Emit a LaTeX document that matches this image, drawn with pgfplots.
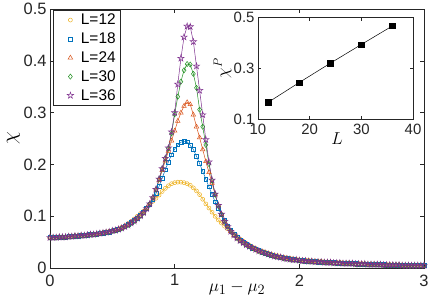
\documentclass[border=0pt]{standalone}
\usepackage[no-math]{fontspec}
\setmainfont{Liberation Sans}
\usepackage{pgfplots}
\pgfplotsset{compat=1.18}
\usepackage{pgfplotstable}

\definecolor{myyellow}{rgb}{0.929,0.694,0.125}
\definecolor{myblue}{rgb}{0,0.447,0.741}
\definecolor{myorange}{rgb}{0.85,0.325,0.098}
\definecolor{mygreen}{rgb}{0.12,0.56,0.12}
\definecolor{mypurple}{rgb}{0.494,0.184,0.556}
\definecolor{axgray}{rgb}{0.15,0.15,0.15}

\pgfdeclareplotmark{pentagram}{%
  \pgfpathmoveto{\pgfqpoint{0pt}{1\pgfplotmarksize}}%
  \pgfpathlineto{\pgfqpoint{0.2245\pgfplotmarksize}{0.309\pgfplotmarksize}}%
  \pgfpathlineto{\pgfqpoint{0.951\pgfplotmarksize}{0.309\pgfplotmarksize}}%
  \pgfpathlineto{\pgfqpoint{0.363\pgfplotmarksize}{-0.118\pgfplotmarksize}}%
  \pgfpathlineto{\pgfqpoint{0.588\pgfplotmarksize}{-0.809\pgfplotmarksize}}%
  \pgfpathlineto{\pgfqpoint{0pt}{-0.382\pgfplotmarksize}}%
  \pgfpathlineto{\pgfqpoint{-0.588\pgfplotmarksize}{-0.809\pgfplotmarksize}}%
  \pgfpathlineto{\pgfqpoint{-0.363\pgfplotmarksize}{-0.118\pgfplotmarksize}}%
  \pgfpathlineto{\pgfqpoint{-0.951\pgfplotmarksize}{0.309\pgfplotmarksize}}%
  \pgfpathlineto{\pgfqpoint{-0.2245\pgfplotmarksize}{0.309\pgfplotmarksize}}%
  \pgfpathclose
  \pgfusepathqstroke
}

\pgfplotstableread{
x      a     b     c     d     e
0.000 0.059 0.059 0.059 0.059 0.059
0.025 0.059 0.059 0.059 0.059 0.059
0.050 0.059 0.059 0.059 0.059 0.059
0.075 0.060 0.060 0.060 0.060 0.060
0.100 0.060 0.060 0.060 0.060 0.060
0.125 0.060 0.060 0.060 0.060 0.060
0.150 0.061 0.061 0.061 0.061 0.061
0.175 0.061 0.061 0.061 0.061 0.061
0.200 0.062 0.062 0.062 0.062 0.062
0.225 0.062 0.062 0.062 0.062 0.062
0.250 0.063 0.063 0.063 0.063 0.063
0.275 0.063 0.063 0.063 0.063 0.063
0.300 0.064 0.064 0.064 0.064 0.064
0.325 0.065 0.065 0.065 0.065 0.065
0.350 0.065 0.065 0.065 0.065 0.065
0.375 0.066 0.066 0.066 0.066 0.066
0.400 0.067 0.067 0.067 0.067 0.067
0.425 0.068 0.068 0.068 0.068 0.068
0.450 0.069 0.069 0.069 0.069 0.069
0.475 0.071 0.070 0.070 0.070 0.070
0.500 0.072 0.072 0.072 0.072 0.072
0.525 0.074 0.073 0.073 0.073 0.073
0.550 0.076 0.075 0.075 0.075 0.075
0.575 0.079 0.078 0.077 0.077 0.077
0.600 0.082 0.081 0.080 0.080 0.080
0.625 0.086 0.084 0.083 0.083 0.083
0.650 0.090 0.088 0.087 0.087 0.087
0.675 0.095 0.092 0.091 0.091 0.091
0.700 0.100 0.097 0.096 0.096 0.096
0.725 0.105 0.102 0.101 0.101 0.101
0.750 0.110 0.108 0.107 0.107 0.107
0.775 0.116 0.115 0.115 0.115 0.115
0.800 0.122 0.123 0.124 0.124 0.124
0.825 0.129 0.132 0.136 0.136 0.136
0.850 0.135 0.144 0.151 0.152 0.152
0.875 0.141 0.158 0.170 0.172 0.172
0.900 0.148 0.174 0.189 0.192 0.192
0.925 0.154 0.190 0.207 0.212 0.212
0.950 0.159 0.205 0.226 0.231 0.232
0.975 0.163 0.219 0.246 0.260 0.263
1.000 0.165 0.230 0.265 0.297 0.300
1.025 0.166 0.238 0.284 0.331 0.355
1.050 0.166 0.243 0.300 0.360 0.405
1.075 0.165 0.245 0.313 0.382 0.446
1.100 0.163 0.244 0.320 0.394 0.467
1.125 0.160 0.237 0.316 0.393 0.466
1.150 0.155 0.229 0.296 0.375 0.437
1.175 0.149 0.216 0.273 0.348 0.390
1.200 0.142 0.202 0.252 0.306 0.343
1.225 0.133 0.187 0.229 0.273 0.296
1.250 0.124 0.172 0.206 0.238 0.248
1.275 0.116 0.157 0.185 0.201 0.205
1.300 0.108 0.142 0.164 0.169 0.170
1.325 0.100 0.128 0.142 0.142 0.143
1.350 0.093 0.115 0.121 0.120 0.121
1.375 0.087 0.103 0.104 0.104 0.104
1.400 0.081 0.092 0.090 0.090 0.090
1.425 0.076 0.082 0.080 0.080 0.080
1.450 0.071 0.073 0.071 0.071 0.071
1.475 0.066 0.065 0.064 0.064 0.064
1.500 0.061 0.059 0.058 0.058 0.058
1.525 0.056 0.054 0.053 0.053 0.053
1.550 0.052 0.050 0.049 0.049 0.049
1.575 0.048 0.046 0.045 0.045 0.045
1.600 0.044 0.042 0.042 0.042 0.042
1.625 0.041 0.039 0.039 0.039 0.039
1.650 0.038 0.036 0.036 0.036 0.036
1.675 0.035 0.034 0.033 0.033 0.033
1.700 0.033 0.031 0.031 0.031 0.031
1.725 0.031 0.029 0.029 0.029 0.029
1.750 0.029 0.027 0.027 0.027 0.027
1.775 0.027 0.025 0.025 0.025 0.025
1.800 0.025 0.024 0.023 0.023 0.023
1.825 0.024 0.022 0.022 0.022 0.022
1.850 0.022 0.021 0.021 0.021 0.021
1.875 0.021 0.020 0.019 0.019 0.019
1.900 0.020 0.019 0.018 0.018 0.018
1.925 0.019 0.018 0.017 0.017 0.017
1.950 0.018 0.017 0.016 0.016 0.016
1.975 0.017 0.016 0.016 0.016 0.016
2.000 0.016 0.015 0.015 0.015 0.015
2.025 0.016 0.015 0.014 0.014 0.014
2.050 0.015 0.014 0.014 0.014 0.014
2.075 0.015 0.014 0.013 0.013 0.013
2.100 0.014 0.013 0.013 0.013 0.013
2.125 0.014 0.013 0.012 0.012 0.012
2.150 0.013 0.012 0.012 0.012 0.012
2.175 0.013 0.012 0.012 0.012 0.012
2.200 0.012 0.012 0.011 0.011 0.011
2.225 0.012 0.011 0.011 0.011 0.011
2.250 0.012 0.011 0.011 0.011 0.011
2.275 0.011 0.011 0.010 0.010 0.010
2.300 0.011 0.010 0.010 0.010 0.010
2.325 0.011 0.010 0.010 0.010 0.010
2.350 0.010 0.010 0.009 0.009 0.009
2.375 0.010 0.009 0.009 0.009 0.009
2.400 0.010 0.009 0.009 0.009 0.009
2.425 0.009 0.009 0.009 0.009 0.009
2.450 0.009 0.009 0.008 0.008 0.008
2.475 0.009 0.008 0.008 0.008 0.008
2.500 0.009 0.008 0.008 0.008 0.008
2.525 0.008 0.008 0.008 0.008 0.008
2.550 0.008 0.008 0.007 0.007 0.007
2.575 0.008 0.007 0.007 0.007 0.007
2.600 0.008 0.007 0.007 0.007 0.007
2.625 0.007 0.007 0.007 0.007 0.007
2.650 0.007 0.007 0.007 0.007 0.007
2.675 0.007 0.007 0.006 0.006 0.006
2.700 0.007 0.006 0.006 0.006 0.006
2.725 0.007 0.006 0.006 0.006 0.006
2.750 0.006 0.006 0.006 0.006 0.006
2.775 0.006 0.006 0.006 0.006 0.006
2.800 0.006 0.006 0.006 0.006 0.006
2.825 0.006 0.006 0.005 0.005 0.005
2.850 0.006 0.005 0.005 0.005 0.005
2.875 0.006 0.005 0.005 0.005 0.005
2.900 0.005 0.005 0.005 0.005 0.005
2.925 0.005 0.005 0.005 0.005 0.005
2.950 0.005 0.005 0.005 0.005 0.005
2.975 0.005 0.005 0.005 0.005 0.005
3.000 0.005 0.005 0.005 0.005 0.005
}\chidata

\pgfplotstableread{
L    chip
12   0.166
18   0.244
24   0.320
30   0.394
36   0.467
}\peakdata

\begin{document}
\begin{tikzpicture}
\begin{axis}[
  at={(0,0)}, anchor=south west,
  scale only axis, width=374bp, height=259bp,
  xmin=0, xmax=3, ymin=0, ymax=0.5,
  xtick={0,1,2,3}, ytick={0,0.1,0.2,0.3,0.4,0.5},
  yticklabel style={/pgf/number format/fixed,/pgf/number format/precision=1},
  /pgf/number format/assume math mode=true,
  tick label style={font=\fontsize{16.5}{19}\selectfont, text=axgray},
  xticklabel style={yshift=-3bp},
  axis line style={axgray, line width=0.5bp},
  tick style={axgray, line width=0.5bp},
  tick align=inside, major tick length=4bp,
  xlabel={$\mu_1-\mu_2$},
  xlabel style={font=\fontsize{19}{22}\selectfont, at={(axis description cs:0.5,-0.089)}, anchor=base, inner sep=0pt},
  ylabel={$\chi$},
  ylabel style={font=\fontsize{20}{22}\selectfont, at={(axis description cs:-0.098,0.5)}, anchor=center, inner sep=0pt},
  legend style={at={(0.008,0.998)}, anchor=north west, draw=axgray, line width=0.5bp,
    font=\fontsize{15.5}{18}\selectfont, text=black, row sep=2.6bp},
  legend cell align=left,
  legend image code/.code={\path[draw=none,fill=none] (0cm,-0.1cm) rectangle (0.8cm,0.1cm); \draw[#1] plot coordinates {(0.5cm,0cm)};},
]
\addplot[myyellow, line width=0.5bp, forget plot] table[x=x,y=a]{\chidata};
\addplot[myyellow, only marks, mark=o, mark size=2bp, mark options={line width=0.5bp}] table[x=x,y=a]{\chidata};
\addlegendentry{L=12}
\addplot[myblue, line width=0.5bp, forget plot] table[x=x,y=b]{\chidata};
\addplot[myblue, only marks, mark=square, mark size=1.9bp, mark options={line width=0.5bp}] table[x=x,y=b]{\chidata};
\addlegendentry{L=18}
\addplot[myorange, line width=0.5bp, forget plot] table[x=x,y=c]{\chidata};
\addplot[myorange, only marks, mark=triangle, mark size=2.6bp, mark options={line width=0.5bp}] table[x=x,y=c]{\chidata};
\addlegendentry{L=24}
\addplot[mygreen, line width=0.5bp, forget plot] table[x=x,y=d]{\chidata};
\addplot[mygreen, only marks, mark=diamond, mark size=2.6bp, mark options={line width=0.5bp}] table[x=x,y=d]{\chidata};
\addlegendentry{L=30}
\addplot[mypurple, line width=0.5bp, forget plot] table[x=x,y=e]{\chidata};
\addplot[mypurple, only marks, mark=pentagram, mark size=3.3bp, mark options={line width=0.5bp}] table[x=x,y=e]{\chidata};
\addlegendentry{L=36}
\end{axis}

\begin{axis}[
  at={(208bp,149.2bp)}, anchor=south west,
  scale only axis, width=155bp, height=101.3bp,
  xmin=10, xmax=40, ymin=0.1, ymax=0.5,
  xtick={10,20,30,40}, ytick={0.1,0.3,0.5},
  yticklabel style={/pgf/number format/fixed,/pgf/number format/precision=1},
  /pgf/number format/assume math mode=true,
  tick label style={font=\fontsize{15}{18}\selectfont, text=axgray},
  xticklabel style={yshift=-2bp},
  axis line style={axgray, line width=0.5bp},
  tick style={axgray, line width=0.5bp},
  tick align=inside, major tick length=3bp,
  axis background/.style={fill=white},
  xlabel={$L$},
  xlabel style={font=\fontsize{17}{20}\selectfont, at={(axis description cs:0.51,-0.254)}, anchor=base, inner sep=0pt},
  ylabel={$\chi^P$},
  ylabel style={font=\fontsize{17}{20}\selectfont, at={(axis description cs:-0.229,0.5)}, anchor=center, inner sep=0pt},
]
\addplot[black, line width=0.5bp, mark=square*, mark size=2.6bp] table[x=L,y=chip]{\peakdata};
\end{axis}
\path (-50bp,-33.5bp) rectangle (386bp,266.5bp);
\end{tikzpicture}
\end{document}
